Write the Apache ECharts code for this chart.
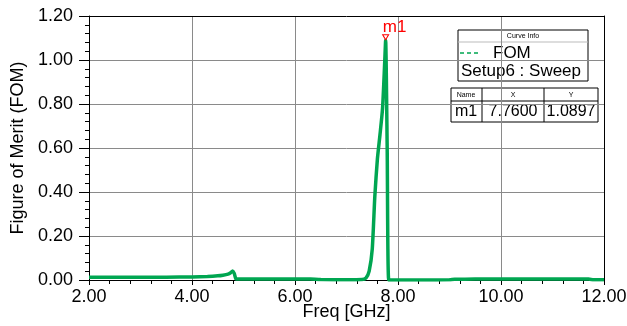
<!DOCTYPE html>
<html>
<head>
<meta charset="utf-8">
<script src="https://cdn.jsdelivr.net/npm/echarts@6/dist/echarts.min.js"></script>
<style>
  html, body { margin: 0; padding: 0; background: #fff; }
  #chart { width: 627px; height: 326px; }
</style>
</head>
<body>
<div id="chart"></div>
<script>
// FOM sweep
const freq = [2.0, 2.5, 3.0, 3.5, 4.0, 4.3, 4.5, 4.6, 4.7, 4.75, 4.79, 4.82, 4.85, 4.9, 5.0, 5.5, 6.0, 6.3, 6.5, 7.0, 7.3, 7.38, 7.44, 7.5, 7.55, 7.6, 7.65, 7.7, 7.74, 7.76, 7.79, 7.82, 7.9, 8.5, 9.0, 9.1, 9.5, 10.0, 11.0, 11.7, 11.8, 12.0]
const fom = [0.012, 0.012, 0.012, 0.013, 0.014, 0.016, 0.019, 0.022, 0.027, 0.033, 0.041, 0.03, 0.006, 0.004, 0.004, 0.005, 0.005, 0.004, 0.002, 0.001, 0.002, 0.01, 0.04, 0.14, 0.38, 0.55, 0.66, 0.78, 0.98, 1.0897, 0.6, 0.0, 0.0, 0.0, 0.001, 0.003, 0.004, 0.004, 0.004, 0.004, 0.001, 0.001]

const yTicks = ['0.00', '0.20', '0.40', '0.60', '0.80', '1.00', '1.20']
const marker = { name: 'm1', x: 7.76, y: 1.0897 }
const curveName = 'FOM'
const setupName = 'Setup6 : Sweep'

const green = '#00a651'
const chart = echarts.init(document.getElementById('chart'))

// plain black frame lines for top/right
const frameX = { type: 'value', min: 2, max: 12, position: 'top', z: 5, axisLine: { show: true, onZero: false, lineStyle: { color: '#000' } }, axisTick: { show: false }, axisLabel: { show: false }, splitLine: { show: false } }
const frameY = { type: 'value', min: 0, max: 1.2, position: 'right', z: 5, axisLine: { show: true, onZero: false, lineStyle: { color: '#000' } }, axisTick: { show: false }, axisLabel: { show: false }, splitLine: { show: false } }

const option = {
  animation: false,
  backgroundColor: '#fff',
  textStyle: { fontFamily: 'Liberation Sans, Arial, sans-serif' },
  grid: { left: 89, right: 23, top: 16, bottom: 46, outerBoundsMode: 'none' },
  xAxis: [{
    type: 'value',
    min: 2, max: 12, interval: 2,
    name: 'Freq [GHz]',
    nameLocation: 'middle',
    nameGap: 23,
    nameMoveOverlap: false,
    nameTextStyle: { fontSize: 18, color: '#000' },
    axisLine: { onZero: false, lineStyle: { color: '#000' } },
    axisTick: { length: 5, lineStyle: { color: '#000' } },
    minorTick: { show: true, splitNumber: 5, length: 4, lineStyle: { color: '#000' } },
    axisLabel: { fontSize: 18, color: '#000', margin: 8, formatter: v => v.toFixed(2) },
    splitLine: { showMinLine: false, showMaxLine: false, lineStyle: { color: '#8a8a8a' } }
  }, frameX],
  yAxis: [{
    type: 'value',
    min: 0, max: 1.2, interval: 0.2,
    name: 'Figure of Merit (FOM)',
    nameLocation: 'middle',
    nameGap: 62,
    nameMoveOverlap: false,
    nameTextStyle: { fontSize: 18, color: '#000' },
    axisLine: { show: true, onZero: false, lineStyle: { color: '#000' } },
    axisTick: { show: true, length: 10, lineStyle: { color: '#000' } },
    minorTick: { show: true, splitNumber: 5, length: 4, lineStyle: { color: '#000' } },
    axisLabel: { fontSize: 18, color: '#000', margin: 16, formatter: (v) => yTicks[Math.round(v / 0.2)] },
    splitLine: { showMinLine: false, showMaxLine: false, lineStyle: { color: '#8a8a8a' } }
  }, frameY],
  series: [{
    name: curveName,
    type: 'line',
    data: freq.map((f, i) => [f, fom[i]]),
    showSymbol: false,
    smooth: 0.2,
    lineStyle: { color: green, width: 3.5 },
    markPoint: {
      symbol: 'triangle',
      symbolRotate: 180,
      symbolSize: [6, 5],
      symbolOffset: [0, -3],
      itemStyle: { color: '#fff', borderColor: '#ff0000', borderWidth: 1 },
      label: { show: true, position: 'top', distance: 1, offset: [9, 3], formatter: marker.name, color: '#ff0000', fontSize: 17 },
      data: [{ coord: [marker.x, marker.y] }]
    }
  }],
  graphic: [
    // curve info box
    { type: 'rect', shape: { x: 458, y: 30, width: 130, height: 51 }, style: { fill: '#fff', stroke: '#000', lineWidth: 1 } },
    { type: 'line', shape: { x1: 458, y1: 42, x2: 588, y2: 42 }, style: { stroke: '#bbb', lineWidth: 1 } },
    { type: 'text', x: 523, y: 36, style: { text: 'Curve Info', fontSize: 7, fill: '#000', align: 'center', verticalAlign: 'middle', fontFamily: 'Liberation Sans' } },
    { type: 'line', shape: { x1: 460, y1: 53, x2: 478, y2: 53 }, style: { stroke: green, lineWidth: 1.5, lineDash: [4, 3] } },
    { type: 'text', x: 493, y: 53, style: { text: curveName, fontSize: 17, fill: '#000', verticalAlign: 'middle', fontFamily: 'Liberation Sans' } },
    { type: 'text', x: 461, y: 71, style: { text: setupName, fontSize: 17, fill: '#000', verticalAlign: 'middle', fontFamily: 'Liberation Sans' } },
    // marker table
    { type: 'rect', shape: { x: 451, y: 88, width: 147, height: 34 }, style: { fill: '#fff', stroke: '#000', lineWidth: 1 } },
    { type: 'line', shape: { x1: 451, y1: 101, x2: 598, y2: 101 }, style: { stroke: '#000', lineWidth: 1 } },
    { type: 'line', shape: { x1: 482, y1: 88, x2: 482, y2: 122 }, style: { stroke: '#000', lineWidth: 1 } },
    { type: 'line', shape: { x1: 544, y1: 88, x2: 544, y2: 122 }, style: { stroke: '#000', lineWidth: 1 } },
    { type: 'text', x: 466, y: 95, style: { text: 'Name', fontSize: 7, fill: '#000', align: 'center', verticalAlign: 'middle', fontFamily: 'Liberation Sans' } },
    { type: 'text', x: 513, y: 95, style: { text: 'X', fontSize: 7, fill: '#000', align: 'center', verticalAlign: 'middle', fontFamily: 'Liberation Sans' } },
    { type: 'text', x: 571, y: 95, style: { text: 'Y', fontSize: 7, fill: '#000', align: 'center', verticalAlign: 'middle', fontFamily: 'Liberation Sans' } },
    { type: 'text', x: 466, y: 112, style: { text: marker.name, fontSize: 16, fill: '#000', align: 'center', verticalAlign: 'middle', fontFamily: 'Liberation Sans' } },
    { type: 'text', x: 513, y: 112, style: { text: marker.x.toFixed(4), fontSize: 16, fill: '#000', align: 'center', verticalAlign: 'middle', fontFamily: 'Liberation Sans' } },
    { type: 'text', x: 571, y: 112, style: { text: marker.y.toFixed(4), fontSize: 16, fill: '#000', align: 'center', verticalAlign: 'middle', fontFamily: 'Liberation Sans' } }
  ]
}
chart.setOption(option)
</script>
</body>
</html>
